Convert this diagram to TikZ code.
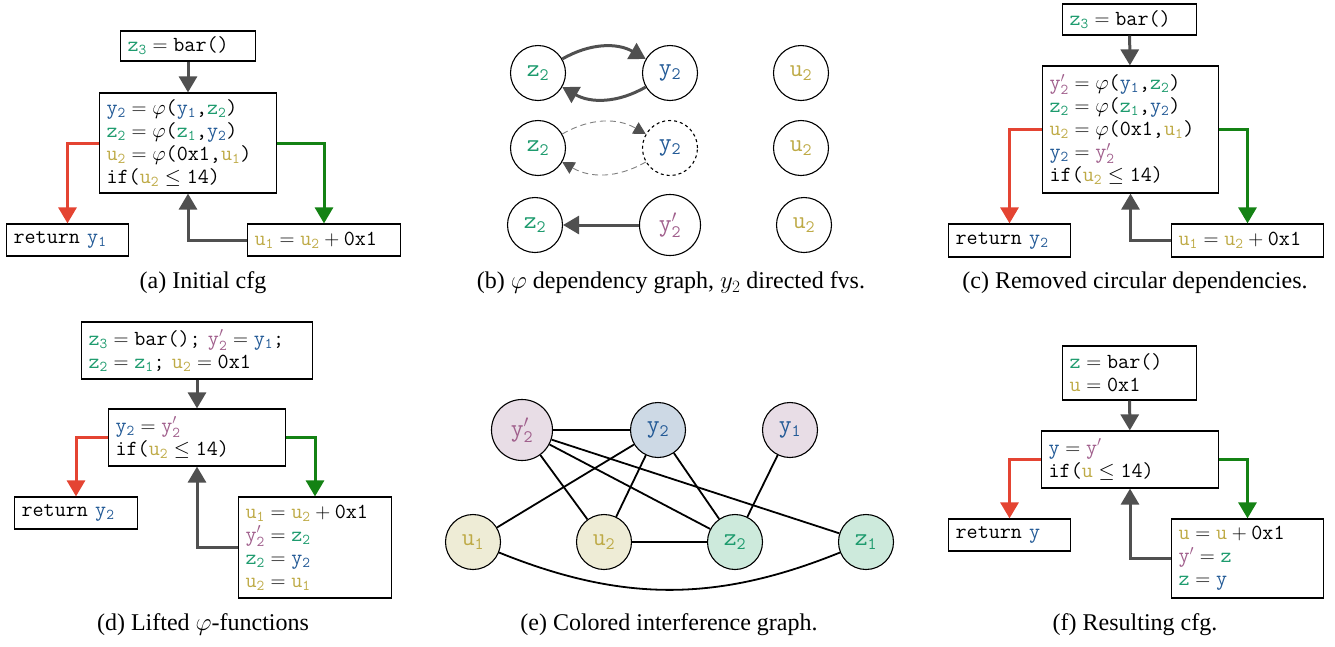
\documentclass[tikz,border=0pt]{standalone}
\usepackage{fontspec}
\setmainfont{Liberation Serif}
\usetikzlibrary{arrows.meta}

\definecolor{zc}{RGB}{30,155,110}
\definecolor{yc}{RGB}{35,90,150}
\definecolor{uc}{RGB}{190,170,70}
\definecolor{pc}{RGB}{160,95,140}
\definecolor{arrgray}{RGB}{80,80,80}
\definecolor{redarr}{RGB}{228,68,50}
\definecolor{greenarr}{RGB}{20,130,20}
\definecolor{pfill}{RGB}{232,221,230}
\definecolor{yfill}{RGB}{205,217,229}
\definecolor{ufill}{RGB}{238,236,214}
\definecolor{zfill}{RGB}{205,234,220}

\newcommand\codefont{\fontsize{21.5}{23}\selectfont\ttfamily}
\newcommand\varfont{\fontsize{25}{28}\selectfont\ttfamily}
\newcommand\capfont{\fontsize{24}{28}\selectfont}
% coloured variables
\newcommand\vr[3]{\textcolor{#1}{$\mathtt{#2}_{\mathtt{#3}}$}}
\newcommand\vp[3]{\textcolor{#1}{$\mathtt{#2}'_{\mathtt{#3}}$}}
\newcommand\eq{${}={}$}
\newcommand\lt{${}\leq{}$}
\newcommand\pl{${}+{}$}

\begin{document}
\begin{tikzpicture}[x=1pt, y=-1pt, >={Triangle[length=16pt,width=18pt]}]

    \tikzset{%
    block/.style={
        draw,
        line width=1.2pt,
        font=\codefont,
        align=left,
        inner xsep=7pt,
        inner ysep=2pt
        },
    box/.style 2 args={
        text width=#1,
        minimum height=#2
        },
    var/.style={
        circle,
        draw,
        line width=1.1pt,
        minimum size=55pt,
        inner sep=1pt,
        font=\varfont
        },
    flow/.style={->, line width=3pt, draw=arrgray},
    dflow/.style={-{Triangle[length=12pt,width=13pt,color=arrgray]},
        dash pattern=on 6pt off 4pt, line width=0.9pt, draw=gray},
    edge/.style={line width=1.8pt},
    caption/.style={font=\capfont},
    }

    \useasboundingbox (0,0) rectangle (1335,646);

    % (a) Initial cfg
    \node [block, box={120.8pt}{30pt}] (a-top) at (188,46) {\vr{zc}{z}{3}\eq bar()};
    \node [block, box={162.8pt}{100pt}] (a-main) at (188,143) {%
        \vr{yc}{y}{2}\eq$\varphi$(\vr{yc}{y}{1},\vr{zc}{z}{2})\\
        \vr{zc}{z}{2}\eq$\varphi$(\vr{zc}{z}{1},\vr{yc}{y}{2})\\
        \vr{uc}{u}{2}\eq$\varphi$(0x1,\vr{uc}{u}{1})\\
        if(\vr{uc}{u}{2}\lt 14)};
    \node [block, box={107.8pt}{32pt}] (a-ret) at (67.5,240) {return \vr{yc}{y}{1}};
    \node [block, box={138.8pt}{32pt}] (a-loop) at (324,240) {\vr{uc}{u}{1}\eq\vr{uc}{u}{2}\pl 0x1};
    \draw [flow] (a-top) -- (a-main);
    \draw [flow, draw=redarr] (a-main.west) -| (a-ret.north);
    \draw [flow, draw=greenarr] (a-main.east) -| (a-loop.north);
    \draw [flow] (a-loop.west) -| (a-main.south);
    \node [caption] (cap-a) at (203,283) {(a) Initial cfg};

    % (b) phi dependency graph
    \node [var] (dz-1) at (538,73) {\vr{zc}{z}{2}};
    \node [var] (dy-1) at (670,73) {\vr{yc}{y}{2}};
    \node [var] (dz-2) at (538,148) {\vr{zc}{z}{2}};
    \node [var, dashed] (dy-2) at (670,148) {\vr{yc}{y}{2}};
    \node [var] (dz-3) at (535,225) {\vr{zc}{z}{2}};
    \node [var, minimum size=61pt] (dyp-3) at (670,225) {\vp{pc}{y}{2}};
    \foreach \r/\x/\y in {1/801/73, 2/801/148, 3/804/225}
    \node [var] (du-\r) at (\x,\y) {\vr{uc}{u}{2}};
    \draw [flow] (dz-1) to[bend left=30] (dy-1);
    \draw [flow] (dy-1) to[bend left=30] (dz-1);
    \draw [dflow] (dz-2) to[bend left=30] (dy-2);
    \draw [dflow] (dy-2) to[bend left=30] (dz-2);
    \draw [flow] (dyp-3) -- (dz-3);
    \node [caption] (cap-b) at (671,283) {(b) $\varphi$ dependency graph, $y_2$ directed fvs.};

    % (c) Removed circular dependencies
    \node [block, box={119.8pt}{31pt}] (c-top) at (1129.5,19.5) {\vr{zc}{z}{3}\eq bar()};
    \node [block, box={161.8pt}{127pt}] (c-main) at (1130.5,129.5) {%
        \vp{pc}{y}{2}\eq$\varphi$(\vr{yc}{y}{1},\vr{zc}{z}{2})\\
        \vr{zc}{z}{2}\eq$\varphi$(\vr{zc}{z}{1},\vr{yc}{y}{2})\\
        \vr{uc}{u}{2}\eq$\varphi$(0x1,\vr{uc}{u}{1})\\
        \vr{yc}{y}{2}\eq\vp{pc}{y}{2}\\
        if(\vr{uc}{u}{2}\lt 14)};
    \node [block, box={107.8pt}{33pt}] (c-ret) at (1009.5,240.5) {return \vr{yc}{y}{2}};
    \node [block, box={137.8pt}{33pt}] (c-loop) at (1247.5,240.5) {\vr{uc}{u}{1}\eq\vr{uc}{u}{2}\pl 0x1};
    \draw [flow] (c-top) -- (c-main);
    \draw [flow, draw=redarr] (c-main.west) -| (c-ret.north);
    \draw [flow, draw=greenarr] (c-main.east) -| (c-loop.north);
    \draw [flow] (c-loop.west) -| (c-main.south);
    \node [caption] (cap-c) at (1135,283) {(c) Removed circular dependencies.};

    % (d) Lifted phi-functions
    \node [block, box={216.8pt}{57pt}] (d-top) at (197,350.5) {%
        \vr{zc}{z}{3}\eq bar(); \vp{pc}{y}{2}\eq\vr{yc}{y}{1};\\
        \vr{zc}{z}{2}\eq\vr{zc}{z}{1}; \vr{uc}{u}{2}\eq 0x1};
    \node [block, box={162.8pt}{57pt}] (d-main) at (197,437.5) {%
        \vr{yc}{y}{2}\eq\vp{pc}{y}{2}\\
        if(\vr{uc}{u}{2}\lt 14)};
    \node [block, box={108.8pt}{32pt}] (d-ret) at (76,513) {return \vr{yc}{y}{2}};
    \node [block, box={138.8pt}{101pt}] (d-loop) at (315,547.5) {%
        \vr{uc}{u}{1}\eq\vr{uc}{u}{2}\pl 0x1\\
        \vp{pc}{y}{2}\eq\vr{zc}{z}{2}\\
        \vr{zc}{z}{2}\eq\vr{yc}{y}{2}\\
        \vr{uc}{u}{2}\eq\vr{uc}{u}{1}};
    \draw [flow] (d-top) -- (d-main);
    \draw [flow, draw=redarr] (d-main.west) -| (d-ret.north);
    \draw [flow, draw=greenarr] (d-main.east) -| (d-loop.north);
    \draw [flow] (d-loop.west) -| (d-main.south);
    \node [caption] (cap-d) at (203,625) {(d) Lifted $\varphi$-functions};

    % (e) Colored interference graph
    \node [var, fill=pfill, minimum size=61pt] (ig-yp) at (522,430) {\vp{pc}{y}{2}};
    \node [var, fill=yfill] (ig-y2) at (658,430) {\vr{yc}{y}{2}};
    \node [var, fill=pfill] (ig-y1) at (790,430) {\vr{yc}{y}{1}};
    \node [var, fill=ufill] (ig-u1) at (473,542) {\vr{uc}{u}{1}};
    \node [var, fill=ufill] (ig-u2) at (604,542) {\vr{uc}{u}{2}};
    \node [var, fill=zfill] (ig-z2) at (735,542) {\vr{zc}{z}{2}};
    \node [var, fill=zfill] (ig-z1) at (866,542) {\vr{zc}{z}{1}};
    \foreach \a/\b in {yp/y2, yp/u2, yp/z2, yp/z1, y2/u1, y2/u2, y2/z2, y1/z2, u2/z2}
    \draw [edge] (ig-\a) -- (ig-\b);
    \draw [edge] (ig-u1) to[bend right=22] (ig-z1);
    \node [caption] (cap-e) at (669,625) {(e) Colored interference graph.};

    % (f) Resulting cfg
    \node [block, box={119.8pt}{54pt}] (f-top) at (1129.5,373) {%
        \textcolor{zc}{z}\eq bar()\\
        \textcolor{uc}{u}\eq 0x1};
    \node [block, box={162.8pt}{57pt}] (f-main) at (1130,459.5) {%
        \textcolor{yc}{y}\eq\textcolor{pc}{$\mathtt{y}'$}\\
        if(\textcolor{uc}{u}\lt 14)};
    \node [block, box={107.8pt}{32pt}] (f-ret) at (1009.5,535) {return \textcolor{yc}{y}};
    \node [block, box={137.8pt}{79pt}] (f-loop) at (1247.5,558.5) {%
        \textcolor{uc}{u}\eq\textcolor{uc}{u}\pl 0x1\\
        \textcolor{pc}{$\mathtt{y}'$}\eq\textcolor{zc}{z}\\
        \textcolor{zc}{z}\eq\textcolor{yc}{y}};
    \draw [flow] (f-top) -- (f-main);
    \draw [flow, draw=redarr] (f-main.west) -| (f-ret.north);
    \draw [flow, draw=greenarr] (f-main.east) -| (f-loop.north);
    \draw [flow] (f-loop.west) -| (f-main.south);
    \node [caption] (cap-f) at (1135,625) {(f) Resulting cfg.};

\end{tikzpicture}
\end{document}
